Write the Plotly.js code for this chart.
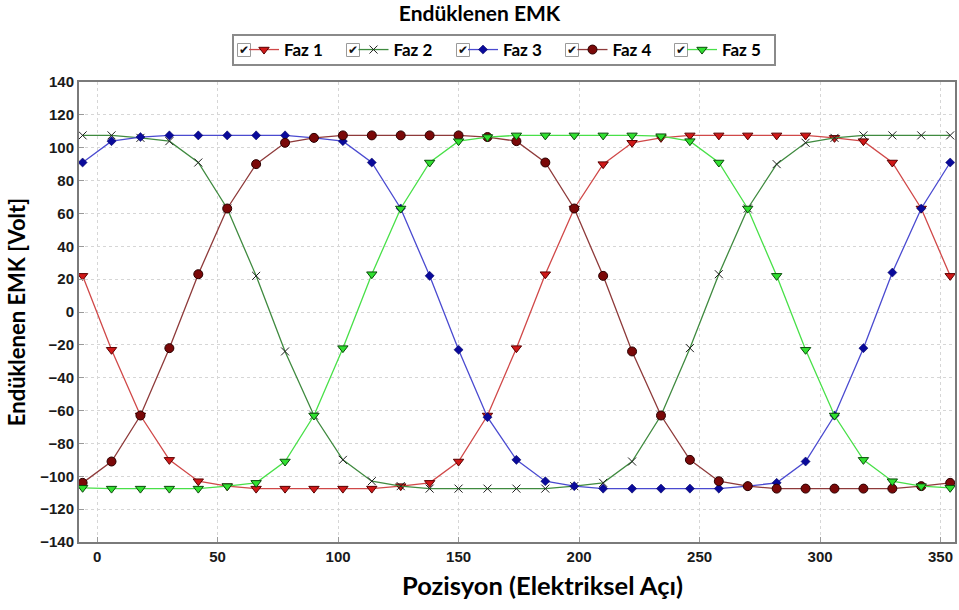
<!DOCTYPE html>
<html>
<head>
<meta charset="utf-8">
<script src="https://cdn.plot.ly/plotly-3.0.1.min.js"></script>
<style>
  html, body { margin: 0; padding: 0; background: #ffffff; }
  #chart { width: 959px; height: 610px; }
</style>
</head>
<body>
<div id="chart"></div>
<script>
// Rotor position in electrical degrees
const positions = [-6, 6, 18, 30, 42, 54, 66, 78, 90, 102, 114, 126, 138, 150, 162, 174,
                   186, 198, 210, 222, 234, 246, 258, 270, 282, 294, 306, 318, 330, 342, 354];

// Induced back-EMF per phase [V]
const faz1 = [22, -23, -63, -90, -103, -106, -107.5, -107.5, -107.5, -107.5, -107.5, -106, -104, -91, -63, -22,
              23, 63, 90, 103, 106, 107.5, 107.5, 107.5, 107.5, 107.5, 106, 104, 91, 63, 22];
const faz2 = [107.5, 107.5, 106, 104, 91, 63, 22, -24, -63, -90, -103, -106, -107.5, -107.5, -107.5, -107.5,
              -107.5, -106, -104, -91, -63, -22, 23, 63, 90, 103, 106, 107.5, 107.5, 107.5, 107.5];
const faz3 = [91, 104, 106.5, 107.5, 107.5, 107.5, 107.5, 107.5, 106, 104, 91, 63, 22, -23, -64, -90,
              -103, -106, -107.5, -107.5, -107.5, -107.5, -107.5, -106, -104, -91, -63, -22, 24, 63, 91];
const faz4 = [-104, -91, -63, -22, 23, 63, 90, 103, 106, 107.5, 107.5, 107.5, 107.5, 107.5, 106.5, 104,
              91, 63, 22, -24, -63, -90, -103, -106, -107.5, -107.5, -107.5, -107.5, -107.5, -106, -104];
const faz5 = [-107, -107.5, -107.5, -107.5, -107.5, -106, -104, -91, -63, -22, 23, 63, 91, 104, 106.5, 107.5,
              107.5, 107.5, 107.5, 107.5, 107, 104, 91, 63, 22, -23, -63, -90, -103, -106, -107];

const seriesNames = ['Faz 1', 'Faz 2', 'Faz 3', 'Faz 4', 'Faz 5'];

const yTicks = [-140, -120, -100, -80, -60, -40, -20, 0, 20, 40, 60, 80, 100, 120, 140];
const xTicks = [0, 50, 100, 150, 200, 250, 300, 350];

const styles = [
  { line: '#d04848', marker: { symbol: 'triangle-down', size: 9, color: '#d01818', line: { color: '#5a0000', width: 1 } } },
  { line: '#3f8a3f', marker: { symbol: 'x-thin', size: 8, color: '#202020', line: { color: '#202020', width: 1 } } },
  { line: '#4a4ad0', marker: { symbol: 'diamond', size: 7, color: '#0a0a9a', line: { color: '#00005a', width: 0.5 } } },
  { line: '#8e3a3a', marker: { symbol: 'circle', size: 9, color: '#7a0808', line: { color: '#2a0000', width: 1 } } },
  { line: '#48e048', marker: { symbol: 'triangle-down', size: 9, color: '#30e030', line: { color: '#0a4a0a', width: 1 } } }
];

const values = [faz1, faz2, faz3, faz4, faz5];
const traces = values.map((v, i) => ({
  type: 'scatter',
  mode: 'lines+markers',
  name: seriesNames[i],
  x: positions,
  y: v,
  line: { color: styles[i].line, width: 1.3 },
  marker: styles[i].marker
}));

// Plot area in pixels: left 79, right 955, top 82, bottom 542
const px = x => (x - 79) / 876;
const py = y => (542 - y) / 460;

// Checkboxes in front of every legend entry
const checkX = [244, 353, 463, 572, 681];
const annotations = checkX.map(cx => ({
  xref: 'paper', yref: 'paper', x: px(cx), y: py(50.5),
  xanchor: 'center', yanchor: 'middle', showarrow: false,
  text: '\u2714', font: { family: 'DejaVu Sans', size: 12, color: '#111111' }
}));

// Horizontal axis caption, centred under the whole chart
annotations.push({
  xref: 'paper', yref: 'paper', x: px(542), y: py(585),
  xanchor: 'center', yanchor: 'middle', showarrow: false,
  text: 'Pozisyon (Elektriksel Açı)',
  font: { family: 'Lato, sans-serif', size: 25.5, color: '#000000', weight: 'bold' }
});

const shapes = [{
  type: 'rect', xref: 'paper', yref: 'paper',
  x0: px(233), x1: px(775), y0: py(65), y1: py(35),
  line: { color: '#8a8a8a', width: 2 }, fillcolor: 'rgba(0,0,0,0)'
}].concat(checkX.map(cx => ({
  type: 'rect', xref: 'paper', yref: 'paper',
  x0: px(cx - 6.5), x1: px(cx + 6.5), y0: py(56.5), y1: py(43.5),
  line: { color: '#9a9a9a', width: 1 }, fillcolor: '#ffffff'
})));

const axisFont = { family: 'Liberation Sans, Arial, sans-serif', size: 15, color: '#1a1a1a', weight: 'bold' };

const layout = {
  width: 959, height: 610,
  margin: { l: 79, r: 4, t: 82, b: 68 },
  paper_bgcolor: '#ffffff', plot_bgcolor: '#ffffff',
  title: {
    text: 'Endüklenen EMK',
    font: { family: 'Lato, sans-serif', size: 21, color: '#000000', weight: 'bold' },
    x: 0.5, xref: 'container', xanchor: 'center', y: 1 - 14 / 610, yref: 'container', yanchor: 'middle'
  },
  showlegend: true,
  legend: {
    orientation: 'h',
    x: px(244), xanchor: 'left', y: py(50), yanchor: 'middle',
    entrywidth: 64.5, entrywidthmode: 'pixels',
    font: { family: 'Lato, sans-serif', size: 17, color: '#000000', weight: 'bold' },
    bgcolor: 'rgba(0,0,0,0)', borderwidth: 0
  },
  xaxis: {
    range: [-7.5, 356],
    tickvals: xTicks,
    ticks: 'inside', ticklen: 5, tickcolor: '#9a9a9a',
    showgrid: true, gridcolor: '#d6d6d6', griddash: 'dot', gridwidth: 1,
    zeroline: false,
    showline: true, linecolor: '#7a7a7a', linewidth: 2, mirror: true,
    tickfont: axisFont
  },
  yaxis: {
    range: [-140, 140],
    tickvals: yTicks,
    ticks: 'inside', ticklen: 5, tickcolor: '#9a9a9a',
    showgrid: true, gridcolor: '#d6d6d6', griddash: 'dot', gridwidth: 1,
    zeroline: false,
    showline: true, linecolor: '#7a7a7a', linewidth: 2, mirror: true,
    tickfont: axisFont,
    title: { text: 'Endüklenen EMK [Volt]', standoff: 9,
             font: { family: 'Lato, sans-serif', size: 22, color: '#000000', weight: 'bold' } }
  },
  annotations: annotations,
  shapes: shapes
};

Plotly.newPlot('chart', traces, layout, { displayModeBar: false, staticPlot: true });
</script>
</body>
</html>
